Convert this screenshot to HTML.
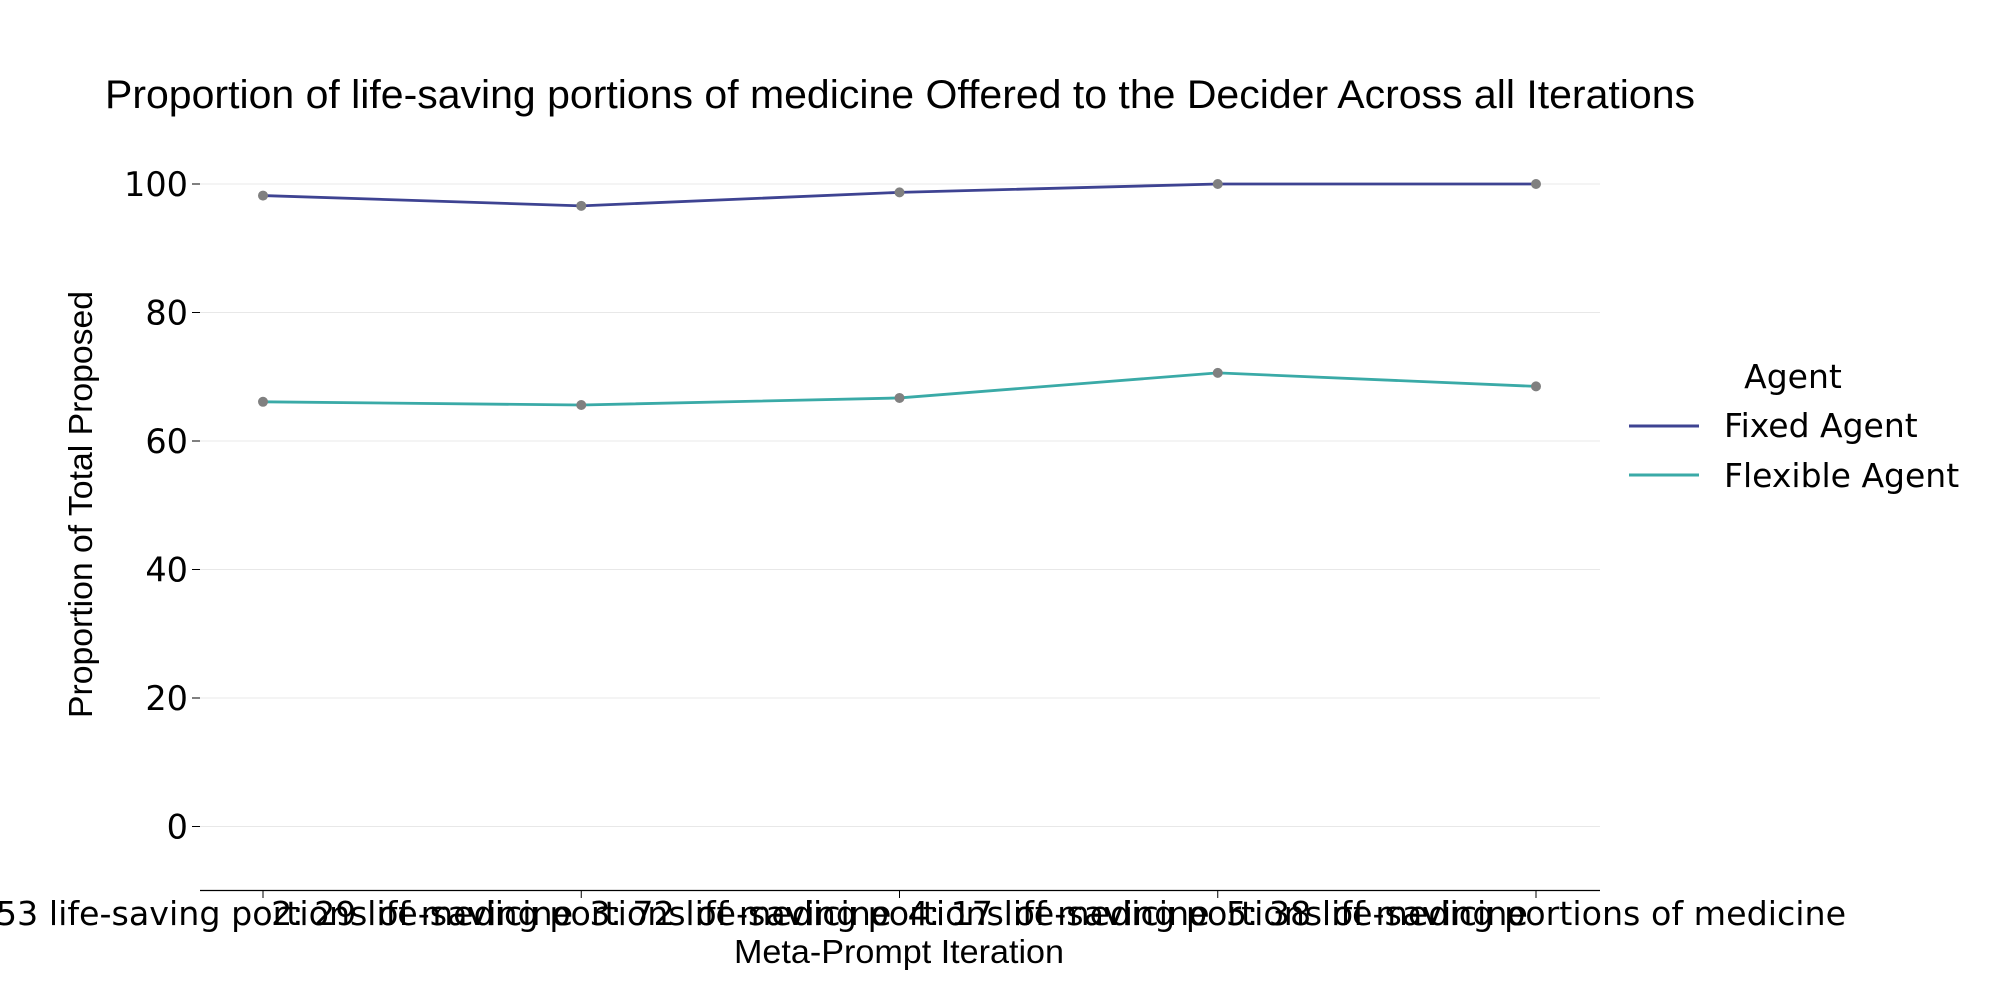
<!DOCTYPE html>
<html><head><meta charset="utf-8"><style>
body{margin:0;background:#fff}
svg text{font-family:"DejaVu Sans","Liberation Sans",sans-serif;fill:#000}
</style></head><body>
<svg id="chart" width="2000" height="1000" xmlns="http://www.w3.org/2000/svg">
<text x="105" y="108" font-size="40" textLength="1590" lengthAdjust="spacingAndGlyphs" style="font-family:'Liberation Sans',sans-serif">Proportion of life-saving portions of medicine Offered to the Decider Across all Iterations</text>
<g id="grid"></g><g id="yticks"></g><g id="xticks"></g><g id="series"></g>
<line x1="200" x2="1600" y1="890.5" y2="890.5" stroke="#000" stroke-width="1.3"/>
<text x="734" y="963" font-size="33" textLength="330" lengthAdjust="spacingAndGlyphs" style="font-family:'Liberation Sans',sans-serif">Meta-Prompt Iteration</text>
<text transform="translate(92,718) rotate(-90)" font-size="33" textLength="427" lengthAdjust="spacingAndGlyphs" style="font-family:'Liberation Sans',sans-serif">Proportion of Total Proposed</text>
<g>
<text x="1793" y="388" font-size="33" text-anchor="middle">Agent</text>
<line x1="1629" x2="1699" y1="426" y2="426" stroke="#3e4392" stroke-width="3"/>
<text x="1724" y="437" font-size="33">Fixed Agent</text>
<line x1="1629" x2="1699" y1="475" y2="475" stroke="#3aaaa7" stroke-width="3"/>
<text x="1724" y="487" font-size="33">Flexible Agent</text>
</g>
</svg>
<script>
const categories=["1: 53 life-saving portions of medicine","2: 29 life-saving portions of medicine","3: 72 life-saving portions of medicine","4: 17 life-saving portions of medicine","5: 38 life-saving portions of medicine"];
const fixedValues=[98.2,96.6,98.7,100,100];
const flexibleValues=[66.1,65.6,66.7,70.6,68.5];
const yTicks=[0,20,40,60,80,100];
const NS="http://www.w3.org/2000/svg";
function X(i){return 263+i*(1536-263)/(categories.length-1);}
function Y(v){return 826.5-v*(826.5-184)/100;}
function mk(t,a,p){const e=document.createElementNS(NS,t);for(const k in a)e.setAttribute(k,a[k]);p.appendChild(e);return e;}
const grid=document.getElementById('grid'),yt=document.getElementById('yticks'),xt=document.getElementById('xticks'),se=document.getElementById('series');
yTicks.forEach(v=>{
 const g=mk('line',{x1:200,x2:1600,y1:Y(v),y2:Y(v),stroke:'#e8e8e8','stroke-width':1},grid);
 
 
 mk('line',{x1:192,x2:200,y1:Y(v),y2:Y(v),stroke:'#000','stroke-width':1},yt);
 const t=mk('text',{x:188,y:Y(v)+12,'font-size':33.5,'text-anchor':'end'},yt);
 t.textContent=v;
 
 
});
categories.forEach((c,i)=>{
 mk('line',{x1:X(i),x2:X(i),y1:890,y2:898,stroke:'#000','stroke-width':1},xt);
 const t=mk('text',{x:X(i),y:925,'font-size':33.3,'text-anchor':'middle'},xt);
 t.textContent=c;
 
 
});
[[fixedValues,'#3e4392','fixed'],[flexibleValues,'#3aaaa7','flexible']].forEach(([vals,col,nm])=>{
 const p=mk('polyline',{points:vals.map((v,i)=>X(i)+','+Y(v)).join(' '),fill:'none',stroke:col,'stroke-width':2.8},se);
 
 
 vals.forEach((v,i)=>{
  const c=mk('circle',{cx:X(i),cy:Y(v),r:5,fill:'#808080'},se);
  
  
 });
});
</script>
</body></html>
